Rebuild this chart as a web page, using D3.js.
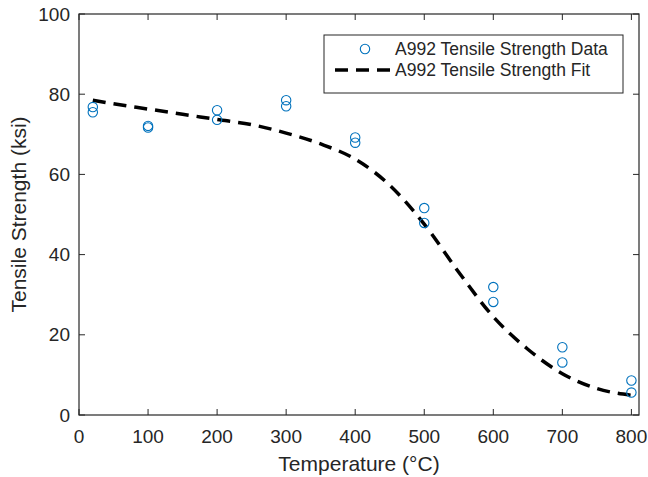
<!DOCTYPE html>
<html>
<head>
<meta charset="utf-8">
<script src="https://cdn.jsdelivr.net/npm/d3@7"></script>
<style>
  html, body { margin: 0; padding: 0; background: #fff; }
  svg { display: block; }
  text { font-family: "Liberation Sans", Arial, Helvetica, sans-serif; fill: #262626; }
</style>
</head>
<body>
<svg id="chart" width="648" height="477"></svg>
<script>
// Measured tensile strength of A992 steel at elevated temperature (two tests per temperature)
const dataTemps = [20, 20, 100, 100, 200, 200, 300, 300, 400, 400, 500, 500, 600, 600, 700, 700, 800, 800];
const dataStrength = [76.8, 75.5, 72.1, 71.7, 76.0, 73.6, 78.5, 77.0, 69.2, 67.9, 51.6, 47.9, 31.9, 28.2, 16.9, 13.1, 8.6, 5.6];

// Fitted strength curve, sampled along the temperature range
const fitTemps = [20, 50, 100, 150, 200, 250, 300, 350, 400, 450, 500, 550, 600, 650, 700, 750, 800];
const fitStrength = [78.5, 77.6, 76.3, 75.0, 73.7, 72.4, 70.3, 67.6, 63.8, 57.3, 47.6, 35.6, 24.5, 16.4, 10.3, 6.6, 4.9];

const xTicks = [0, 100, 200, 300, 400, 500, 600, 700, 800];
const yTicks = [0, 20, 40, 60, 80, 100];

const svg = d3.select("#chart");
const plotL = 79, plotR = 639, plotT = 14, plotB = 415;
const ink = "#262626";
const blue = "#0072BD";
const tickFont = 19, labelFont = 21, legendFont = 17.5;

const x = d3.scaleLinear().domain([0, 811]).range([plotL, plotR]);
const y = d3.scaleLinear().domain([0, 100]).range([plotB, plotT]);

// Tick marks on all four sides, pointing inward
const tickLen = 6;
const g = svg.append("g");
xTicks.forEach(t => {
  g.append("line").attr("x1", x(t)).attr("x2", x(t)).attr("y1", plotB).attr("y2", plotB - tickLen)
    .attr("stroke", ink).attr("stroke-width", 1);
  g.append("line").attr("x1", x(t)).attr("x2", x(t)).attr("y1", plotT).attr("y2", plotT + tickLen)
    .attr("stroke", ink).attr("stroke-width", 1);
  g.append("text").attr("x", x(t)).attr("y", 436).attr("text-anchor", "middle")
    .attr("dominant-baseline", "central").attr("font-size", tickFont).text(t);
});
yTicks.forEach(t => {
  g.append("line").attr("x1", plotL).attr("x2", plotL + tickLen).attr("y1", y(t)).attr("y2", y(t))
    .attr("stroke", ink).attr("stroke-width", 1);
  g.append("line").attr("x1", plotR).attr("x2", plotR - tickLen).attr("y1", y(t)).attr("y2", y(t))
    .attr("stroke", ink).attr("stroke-width", 1);
  g.append("text").attr("x", 70).attr("y", y(t)).attr("text-anchor", "end")
    .attr("dominant-baseline", "central").attr("font-size", tickFont).text(t);
});

// Box around the plot area
svg.append("rect").attr("x", plotL).attr("y", plotT).attr("width", plotR - plotL).attr("height", plotB - plotT)
  .attr("fill", "none").attr("stroke", ink).attr("stroke-width", 1.2);

// Axis titles
svg.append("text").attr("x", (plotL + plotR) / 2).attr("y", 463).attr("text-anchor", "middle")
  .attr("dominant-baseline", "central").attr("font-size", labelFont).text("Temperature (°C)");
svg.append("text").attr("transform", `translate(18,${(plotT + plotB) / 2}) rotate(-90)`)
  .attr("text-anchor", "middle").attr("dominant-baseline", "central").attr("font-size", labelFont)
  .text("Tensile Strength (ksi)");

// Fitted curve
const fit = fitTemps.map((t, i) => [t, fitStrength[i]]);
const line = d3.line().x(d => x(d[0])).y(d => y(d[1])).curve(d3.curveMonotoneX);
svg.append("path").datum(fit).attr("d", line).attr("fill", "none")
  .attr("stroke", "#000").attr("stroke-width", 3.5).attr("stroke-dasharray", "13,8");

// Test data markers
svg.append("g").selectAll("circle").data(dataTemps.map((t, i) => [t, dataStrength[i]]))
  .join("circle").attr("cx", d => x(d[0])).attr("cy", d => y(d[1])).attr("r", 4.7)
  .attr("fill", "none").attr("stroke", blue).attr("stroke-width", 1.1);

// Legend
const lg = svg.append("g");
lg.append("rect").attr("x", 324).attr("y", 35).attr("width", 299).attr("height", 58)
  .attr("fill", "#fff").attr("stroke", ink).attr("stroke-width", 1);
lg.append("circle").attr("cx", 365).attr("cy", 49).attr("r", 4.7)
  .attr("fill", "none").attr("stroke", blue).attr("stroke-width", 1.1);
lg.append("line").attr("x1", 335).attr("x2", 392).attr("y1", 70).attr("y2", 70)
  .attr("stroke", "#000").attr("stroke-width", 3.5).attr("stroke-dasharray", "13,8");
lg.append("text").attr("x", 395).attr("y", 49).attr("dominant-baseline", "central")
  .attr("font-size", legendFont).text("A992 Tensile Strength Data");
lg.append("text").attr("x", 395).attr("y", 70).attr("dominant-baseline", "central")
  .attr("font-size", legendFont).text("A992 Tensile Strength Fit");
</script>
</body>
</html>
